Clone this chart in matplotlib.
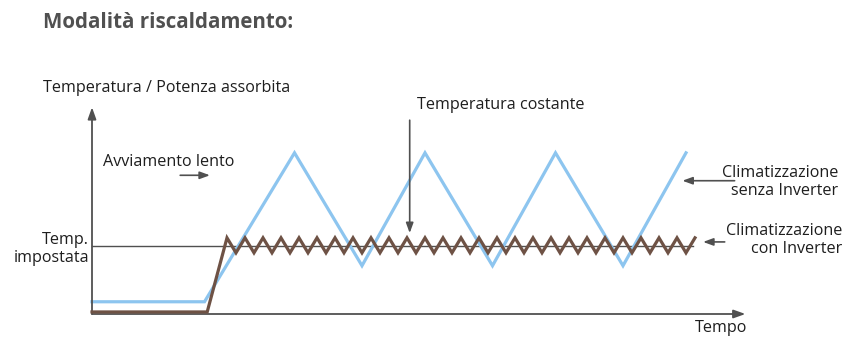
import matplotlib
matplotlib.use("Agg")
import matplotlib.pyplot as plt

# ---- data (time units, temperature units) ----
set_temp = 10.0
# conventional (non-inverter) unit: on/off cycling
blue_t = [0, 12.5, 22.5, 30, 37, 44.5, 51.5, 59, 66]
blue_y = [1.8, 1.8, 23.7, 7.1, 23.7, 7.1, 23.7, 7.1, 23.7]
# inverter unit: fast start, then small oscillation around set point
brown_t = [0, 12.8, 15, 16, 17, 18, 19, 20, 21, 22, 23, 24, 25, 26, 27, 28, 29, 30,
           31, 32, 33, 34, 35, 36, 37, 38, 39, 40, 41, 42, 43, 44, 45, 46, 47, 48,
           49, 50, 51, 52, 53, 54, 55, 56, 57, 58, 59, 60, 61, 62, 63, 64, 65, 66, 67]
brown_y = [0.3, 0.3, 11.2, 9.0, 11.2, 9.0, 11.2, 9.0, 11.2, 9.0, 11.2, 9.0, 11.2, 9.0,
           11.2, 9.0, 11.2, 9.0, 11.2, 9.0, 11.2, 9.0, 11.2, 9.0, 11.2, 9.0, 11.2, 9.0,
           11.2, 9.0, 11.2, 9.0, 11.2, 9.0, 11.2, 9.0, 11.2, 9.0, 11.2, 9.0, 11.2, 9.0,
           11.2, 9.0, 11.2, 9.0, 11.2, 9.0, 11.2, 9.0, 11.2, 9.0, 11.2, 9.0, 11.2]
set_line_end = 66.8
y_axis_top = 30.4
x_axis_end = 72.6

title = "Modalità riscaldamento:"
ylabel = "Temperatura / Potenza assorbita"
xlabel = "Tempo"
label_set = "Temp.\nimpostata"
label_slow = "Avviamento lento"
label_const = "Temperatura costante"
label_noinv = "Climatizzazione\nsenza Inverter"
label_inv = "Climatizzazione\ncon Inverter"

# ---- figure ----
W, H = 851, 338
fig = plt.figure(figsize=(W / 100, H / 100), dpi=100)
ax = fig.add_axes([0, 0, 1, 1])
X0, Y0, SX, SY = 92, 314, 9.0, 6.8
ax.set_xlim(-X0 / SX, (W - X0) / SX)
ax.set_ylim((Y0 - H) / SY, Y0 / SY)
ax.axis("off")

FONT = "Open Sans"
TXT = "#1e1e1e"
GREY = "#505050"
BLUE = "#8dc5ef"
BROWN = "#6e5245"

def fp(x, y):
    return x / W, 1 - y / H

# axes arrows
arrow_kw = dict(arrowstyle="-|>,head_length=0.7,head_width=0.25", color=GREY, lw=1.3,
                shrinkA=0, shrinkB=0)
ax.annotate("", xy=(0, y_axis_top), xytext=(0, 0), arrowprops=arrow_kw)
ax.annotate("", xy=(x_axis_end, 0), xytext=(0, 0), arrowprops=arrow_kw)

# set temperature line
ax.plot([0, set_line_end], [set_temp, set_temp], color=GREY, lw=1.0, zorder=1)

# curves
ax.plot(blue_t, blue_y, color=BLUE, lw=2.3, zorder=2, solid_joinstyle="miter")
ax.plot(brown_t, brown_y, color=BROWN, lw=2.3, zorder=3, solid_joinstyle="miter")

# annotation arrows
small = dict(arrowstyle="-|>,head_length=0.6,head_width=0.22", color=GREY, lw=1.2,
             shrinkA=0, shrinkB=0)
ax.annotate("", xy=(13.1, 20.4), xytext=(9.8, 20.4), arrowprops=small)
ax.annotate("", xy=(35.3, 11.9), xytext=(35.3, 28.5), arrowprops=small)
ax.annotate("", xy=(65.6, 19.6), xytext=(71.4, 19.6), arrowprops=small)
ax.annotate("", xy=(67.9, 10.6), xytext=(70.3, 10.6), arrowprops=small)

fs = 11.6
fig.text(*fp(43, 23), title, fontsize=14.8, fontweight="bold", color="#505050",
         family=FONT, va="center", ha="left")
fig.text(*fp(43, 88), ylabel, fontsize=fs, color=TXT, family=FONT, va="center", ha="left")
fig.text(*fp(103, 162), label_slow, fontsize=fs, color=TXT, family=FONT, va="center", ha="left")
fig.text(*fp(417, 105), label_const, fontsize=fs, color=TXT, family=FONT, va="center", ha="left")
fig.text(*fp(89, 249), label_set, fontsize=fs, color=TXT, family=FONT, va="center",
         ha="right", multialignment="right", linespacing=1.2)
fig.text(*fp(838, 182), label_noinv, fontsize=fs, color=TXT, family=FONT, va="center",
         ha="right", multialignment="right", linespacing=1.2)
fig.text(*fp(842, 240), label_inv, fontsize=fs, color=TXT, family=FONT, va="center",
         ha="right", multialignment="right", linespacing=1.2)
fig.text(*fp(695, 328), xlabel, fontsize=fs, color=TXT, family=FONT, va="center", ha="left")

fig.savefig("out.png", dpi=100, facecolor="white")
